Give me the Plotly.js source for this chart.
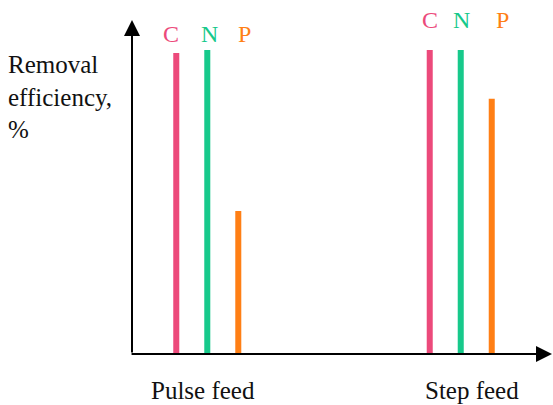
<!DOCTYPE html>
<html>
<head>
<meta charset="utf-8">
<script src="https://cdn.plot.ly/plotly-3.0.1.min.js"></script>
<style>html,body{margin:0;padding:0;background:#fff;}#chart{width:553px;height:405px;}</style>
</head>
<body>
<div id="chart"></div>
<script>
const categories = ["Pulse feed", "Step feed"];
const seriesNames = ["C", "N", "P"];
const C = [99, 100];
const N = [100, 100];
const P = [47, 84];
const yTitle = "Removal<br>efficiency,<br>%";

const seriesValues = [C, N, P];
const colors = ["#ec4a7b", "#17c98b", "#ff7f15"];
const font = "'Liberation Serif', 'Times New Roman', Times, serif";

const traces = seriesNames.map((name, i) => ({
  type: "bar",
  name: name,
  x: categories,
  y: seriesValues[i],
  marker: {color: colors[i], line: {width: 0}},
  hoverinfo: "skip"
}));

// label offsets (px) relative to group centre, per category
const labelShift = [[-36, 2, 37], [-31, 1, 42]];
const labelY = [0.958, 1.0];

const annotations = [];
categories.forEach((cat, ci) => {
  seriesNames.forEach((name, si) => {
    annotations.push({
      xref: "x", yref: "paper", x: cat, y: labelY[ci],
      xshift: labelShift[ci][si], yanchor: "middle", xanchor: "center",
      text: name, showarrow: false,
      font: {family: font, size: 24, color: colors[si]}
    });
  });
});
// category labels
const catShift = [-4, 11];
categories.forEach((cat, ci) => {
  annotations.push({
    xref: "x", yref: "paper", x: cat, y: -0.1527, xshift: catShift[ci],
    yanchor: "bottom", xanchor: "center", borderpad: 0, text: cat, showarrow: false,
    font: {family: font, size: 25, color: "#111"}
  });
});
// y title
annotations.push({
  xref: "paper", yref: "paper", x: 0, y: 0.77, xshift: -126,
  xanchor: "left", yanchor: "middle", align: "left", text: yTitle, showarrow: false,
  font: {family: font, size: 25, color: "#111"}
});
// axis arrows
annotations.push({
  xref: "paper", yref: "paper", x: 0, y: 1, ax: 0, ay: 334, axref: "pixel", ayref: "pixel",
  text: "", showarrow: true, arrowhead: 2, arrowsize: 1.6, arrowwidth: 2, arrowcolor: "#000", standoff: 0, startstandoff: 0
});
annotations.push({
  xref: "paper", yref: "paper", x: 1.012, y: 0, ax: -428, ay: 0, axref: "pixel", ayref: "pixel",
  text: "", showarrow: true, arrowhead: 2, arrowsize: 1.6, arrowwidth: 2, arrowcolor: "#000", standoff: 0, startstandoff: 0
});

const layout = {
  width: 553, height: 405,
  margin: {l: 132, r: 0, t: 20, b: 51},
  paper_bgcolor: "#fff", plot_bgcolor: "#fff",
  showlegend: false,
  barmode: "group",
  bargap: 0.633,
  bargroupgap: 0.806,
  font: {family: font},
  xaxis: {type: "category", range: [-0.297, 1.364], showgrid: false, zeroline: false,
          showline: false, showticklabels: false, ticks: "", fixedrange: true},
  yaxis: {range: [0, 109.87], showgrid: false, zeroline: false, showline: false,
          showticklabels: false, ticks: "", fixedrange: true},
  annotations: annotations
};

Plotly.newPlot("chart", traces, layout, {displayModeBar: false, staticPlot: true});
</script>
</body>
</html>
